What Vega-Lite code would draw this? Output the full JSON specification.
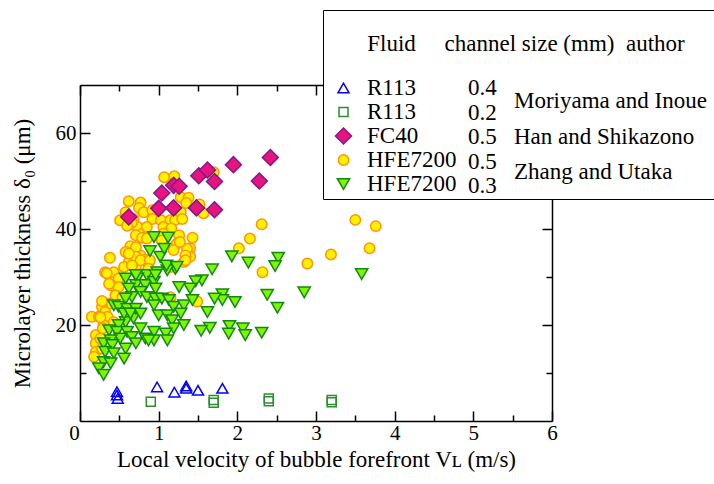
{
  "$schema": "https://vega.github.io/schema/vega-lite/v6.json",
  "width": 472,
  "height": 336,
  "autosize": {"type": "none"},
  "padding": {"left": 80, "top": 85, "right": 162, "bottom": 63},
  "background": "white",
  "config": {
    "font": "Liberation Serif",
    "view": {"stroke": null},
    "style": {
      "guide-label": {"font": "Liberation Serif", "fill": "black"},
      "guide-title": {"font": "Liberation Serif", "fill": "black"}
    },
    "axis": {
      "grid": false,
      "labelFont": "Liberation Serif",
      "titleFont": "Liberation Serif",
      "labelFontSize": 21,
      "titleFontSize": 23,
      "titleFontWeight": "normal",
      "labelColor": "black",
      "titleColor": "black",
      "domainColor": "black",
      "tickColor": "black",
      "domainWidth": 1.5,
      "tickWidth": 1.5
    },
    "legend": {
      "labelFont": "Liberation Serif",
      "titleFont": "Liberation Serif",
      "labelFontSize": 23,
      "titleFontSize": 23,
      "titleFontWeight": "normal",
      "labelColor": "black",
      "titleColor": "black",
      "labelLimit": 1000,
      "titleLimit": 1000
    }
  },
  "datasets": {
    "points": [
      {"series": "HFE7200 0.5", "v": 1.07, "d": 50.8},
      {"series": "HFE7200 0.5", "v": 1.20, "d": 51.0},
      {"series": "HFE7200 0.5", "v": 0.62, "d": 45.8},
      {"series": "HFE7200 0.5", "v": 0.77, "d": 45.5},
      {"series": "HFE7200 0.5", "v": 0.75, "d": 44.4},
      {"series": "HFE7200 0.5", "v": 0.58, "d": 43.5},
      {"series": "HFE7200 0.5", "v": 0.56, "d": 41.8},
      {"series": "HFE7200 0.5", "v": 0.51, "d": 41.8},
      {"series": "HFE7200 0.5", "v": 0.68, "d": 42.1},
      {"series": "HFE7200 0.5", "v": 0.81, "d": 43.5},
      {"series": "HFE7200 0.5", "v": 0.92, "d": 43.9},
      {"series": "HFE7200 0.5", "v": 0.92, "d": 42.1},
      {"series": "HFE7200 0.5", "v": 0.73, "d": 40.4},
      {"series": "HFE7200 0.5", "v": 0.79, "d": 39.0},
      {"series": "HFE7200 0.5", "v": 0.71, "d": 38.7},
      {"series": "HFE7200 0.5", "v": 0.85, "d": 40.4},
      {"series": "HFE7200 0.5", "v": 1.03, "d": 41.8},
      {"series": "HFE7200 0.5", "v": 1.09, "d": 40.1},
      {"series": "HFE7200 0.5", "v": 1.15, "d": 41.8},
      {"series": "HFE7200 0.5", "v": 1.06, "d": 40.4},
      {"series": "HFE7200 0.5", "v": 1.21, "d": 41.9},
      {"series": "HFE7200 0.5", "v": 1.28, "d": 46.6},
      {"series": "HFE7200 0.5", "v": 1.38, "d": 46.5},
      {"series": "HFE7200 0.5", "v": 1.35, "d": 45.4},
      {"series": "HFE7200 0.5", "v": 1.28, "d": 43.5},
      {"series": "HFE7200 0.5", "v": 1.43, "d": 38.2},
      {"series": "HFE7200 0.5", "v": 1.57, "d": 43.3},
      {"series": "HFE7200 0.5", "v": 2.31, "d": 41.0},
      {"series": "HFE7200 0.5", "v": 2.16, "d": 38.0},
      {"series": "HFE7200 0.5", "v": 2.02, "d": 36.0},
      {"series": "HFE7200 0.5", "v": 2.32, "d": 31.0},
      {"series": "HFE7200 0.5", "v": 2.89, "d": 32.8},
      {"series": "HFE7200 0.5", "v": 3.19, "d": 34.7},
      {"series": "HFE7200 0.5", "v": 3.50, "d": 41.9},
      {"series": "HFE7200 0.5", "v": 3.76, "d": 40.6},
      {"series": "HFE7200 0.5", "v": 3.68, "d": 36.0},
      {"series": "HFE7200 0.5", "v": 1.70, "d": 51.8},
      {"series": "HFE7200 0.5", "v": 1.40, "d": 36.0},
      {"series": "HFE7200 0.5", "v": 1.52, "d": 45.1},
      {"series": "HFE7200 0.5", "v": 1.49, "d": 24.9},
      {"series": "HFE7200 0.5", "v": 1.40, "d": 34.2},
      {"series": "HFE7200 0.5", "v": 0.38, "d": 34.0},
      {"series": "HFE7200 0.5", "v": 0.64, "d": 36.4},
      {"series": "HFE7200 0.5", "v": 0.58, "d": 35.2},
      {"series": "HFE7200 0.5", "v": 0.66, "d": 34.5},
      {"series": "HFE7200 0.5", "v": 0.77, "d": 34.5},
      {"series": "HFE7200 0.5", "v": 0.83, "d": 33.6},
      {"series": "HFE7200 0.5", "v": 0.87, "d": 32.8},
      {"series": "HFE7200 0.5", "v": 0.62, "d": 33.1},
      {"series": "HFE7200 0.5", "v": 0.56, "d": 32.1},
      {"series": "HFE7200 0.5", "v": 0.35, "d": 30.7},
      {"series": "HFE7200 0.5", "v": 0.43, "d": 31.0},
      {"series": "HFE7200 0.5", "v": 0.71, "d": 32.1},
      {"series": "HFE7200 0.5", "v": 1.23, "d": 36.9},
      {"series": "HFE7200 0.5", "v": 1.36, "d": 35.9},
      {"series": "HFE7200 0.5", "v": 1.34, "d": 34.5},
      {"series": "HFE7200 0.5", "v": 1.32, "d": 33.1},
      {"series": "HFE7200 0.5", "v": 1.15, "d": 32.1},
      {"series": "HFE7200 0.5", "v": 1.19, "d": 35.6},
      {"series": "HFE7200 0.5", "v": 0.66, "d": 41.4},
      {"series": "HFE7200 0.5", "v": 0.60, "d": 40.7},
      {"series": "HFE7200 0.5", "v": 1.30, "d": 42.1},
      {"series": "HFE7200 0.5", "v": 1.16, "d": 40.1},
      {"series": "HFE7200 0.5", "v": 1.06, "d": 39.0},
      {"series": "HFE7200 0.5", "v": 1.26, "d": 38.7},
      {"series": "HFE7200 0.5", "v": 0.79, "d": 38.2},
      {"series": "HFE7200 0.5", "v": 0.85, "d": 38.0},
      {"series": "HFE7200 0.5", "v": 1.04, "d": 37.6},
      {"series": "HFE7200 0.5", "v": 1.27, "d": 37.3},
      {"series": "HFE7200 0.5", "v": 0.71, "d": 36.2},
      {"series": "HFE7200 0.5", "v": 0.71, "d": 34.2},
      {"series": "HFE7200 0.5", "v": 0.62, "d": 34.9},
      {"series": "HFE7200 0.5", "v": 0.77, "d": 33.5},
      {"series": "HFE7200 0.5", "v": 0.89, "d": 33.5},
      {"series": "HFE7200 0.5", "v": 1.34, "d": 33.5},
      {"series": "HFE7200 0.5", "v": 0.66, "d": 32.4},
      {"series": "HFE7200 0.5", "v": 0.32, "d": 31.0},
      {"series": "HFE7200 0.5", "v": 0.49, "d": 29.7},
      {"series": "HFE7200 0.5", "v": 0.39, "d": 28.3},
      {"series": "HFE7200 0.5", "v": 0.49, "d": 27.9},
      {"series": "HFE7200 0.5", "v": 0.45, "d": 26.2},
      {"series": "HFE7200 0.5", "v": 0.54, "d": 25.8},
      {"series": "HFE7200 0.5", "v": 0.37, "d": 24.5},
      {"series": "HFE7200 0.5", "v": 0.28, "d": 23.8},
      {"series": "HFE7200 0.5", "v": 0.32, "d": 22.7},
      {"series": "HFE7200 0.5", "v": 0.15, "d": 21.7},
      {"series": "HFE7200 0.5", "v": 0.24, "d": 21.7},
      {"series": "HFE7200 0.5", "v": 0.35, "d": 21.7},
      {"series": "HFE7200 0.5", "v": 0.43, "d": 20.6},
      {"series": "HFE7200 0.5", "v": 0.30, "d": 20.0},
      {"series": "HFE7200 0.5", "v": 0.20, "d": 17.9},
      {"series": "HFE7200 0.5", "v": 0.20, "d": 16.2},
      {"series": "HFE7200 0.5", "v": 0.20, "d": 14.4},
      {"series": "HFE7200 0.5", "v": 0.18, "d": 13.4},
      {"series": "HFE7200 0.5", "v": 0.26, "d": 17.2},
      {"series": "HFE7200 0.5", "v": 0.28, "d": 15.1},
      {"series": "HFE7200 0.5", "v": 1.15, "d": 25.8},
      {"series": "HFE7200 0.5", "v": 0.87, "d": 31.7},
      {"series": "HFE7200 0.5", "v": 0.37, "d": 28.6},
      {"series": "HFE7200 0.5", "v": 0.28, "d": 25.0},
      {"series": "HFE7200 0.5", "v": 0.34, "d": 30.8},
      {"series": "HFE7200 0.5", "v": 0.29, "d": 19.3},
      {"series": "HFE7200 0.5", "v": 0.26, "d": 21.6},

      {"series": "HFE7200 0.3", "v": 1.93, "d": 34.3},
      {"series": "HFE7200 0.3", "v": 2.14, "d": 33.0},
      {"series": "HFE7200 0.3", "v": 2.52, "d": 34.0},
      {"series": "HFE7200 0.3", "v": 2.48, "d": 32.3},
      {"series": "HFE7200 0.3", "v": 1.68, "d": 31.6},
      {"series": "HFE7200 0.3", "v": 1.55, "d": 29.3},
      {"series": "HFE7200 0.3", "v": 1.47, "d": 29.1},
      {"series": "HFE7200 0.3", "v": 1.40, "d": 27.6},
      {"series": "HFE7200 0.3", "v": 2.85, "d": 26.8},
      {"series": "HFE7200 0.3", "v": 3.58, "d": 30.6},
      {"series": "HFE7200 0.3", "v": 2.38, "d": 26.3},
      {"series": "HFE7200 0.3", "v": 2.51, "d": 23.6},
      {"series": "HFE7200 0.3", "v": 1.81, "d": 26.4},
      {"series": "HFE7200 0.3", "v": 1.81, "d": 25.2},
      {"series": "HFE7200 0.3", "v": 1.71, "d": 25.5},
      {"series": "HFE7200 0.3", "v": 1.97, "d": 24.8},
      {"series": "HFE7200 0.3", "v": 1.62, "d": 22.7},
      {"series": "HFE7200 0.3", "v": 1.65, "d": 19.4},
      {"series": "HFE7200 0.3", "v": 1.90, "d": 19.8},
      {"series": "HFE7200 0.3", "v": 1.89, "d": 18.2},
      {"series": "HFE7200 0.3", "v": 2.07, "d": 19.3},
      {"series": "HFE7200 0.3", "v": 2.10, "d": 17.9},
      {"series": "HFE7200 0.3", "v": 2.31, "d": 18.4},
      {"series": "HFE7200 0.3", "v": 1.54, "d": 18.8},
      {"series": "HFE7200 0.3", "v": 1.02, "d": 34.2},
      {"series": "HFE7200 0.3", "v": 1.21, "d": 31.7},
      {"series": "HFE7200 0.3", "v": 1.11, "d": 31.4},
      {"series": "HFE7200 0.3", "v": 0.98, "d": 31.0},
      {"series": "HFE7200 0.3", "v": 0.85, "d": 30.4},
      {"series": "HFE7200 0.3", "v": 0.73, "d": 29.7},
      {"series": "HFE7200 0.3", "v": 0.58, "d": 29.7},
      {"series": "HFE7200 0.3", "v": 0.71, "d": 28.3},
      {"series": "HFE7200 0.3", "v": 0.83, "d": 28.3},
      {"series": "HFE7200 0.3", "v": 0.94, "d": 29.0},
      {"series": "HFE7200 0.3", "v": 0.96, "d": 27.6},
      {"series": "HFE7200 0.3", "v": 0.62, "d": 27.6},
      {"series": "HFE7200 0.3", "v": 0.77, "d": 26.9},
      {"series": "HFE7200 0.3", "v": 0.66, "d": 25.8},
      {"series": "HFE7200 0.3", "v": 0.58, "d": 25.5},
      {"series": "HFE7200 0.3", "v": 0.85, "d": 25.8},
      {"series": "HFE7200 0.3", "v": 1.26, "d": 27.9},
      {"series": "HFE7200 0.3", "v": 0.96, "d": 25.5},
      {"series": "HFE7200 0.3", "v": 1.04, "d": 25.5},
      {"series": "HFE7200 0.3", "v": 1.13, "d": 25.2},
      {"series": "HFE7200 0.3", "v": 1.19, "d": 23.8},
      {"series": "HFE7200 0.3", "v": 1.32, "d": 24.1},
      {"series": "HFE7200 0.3", "v": 1.28, "d": 22.4},
      {"series": "HFE7200 0.3", "v": 1.43, "d": 25.2},
      {"series": "HFE7200 0.3", "v": 0.94, "d": 24.1},
      {"series": "HFE7200 0.3", "v": 1.00, "d": 22.0},
      {"series": "HFE7200 0.3", "v": 1.11, "d": 22.0},
      {"series": "HFE7200 0.3", "v": 1.17, "d": 21.0},
      {"series": "HFE7200 0.3", "v": 1.32, "d": 20.0},
      {"series": "HFE7200 0.3", "v": 1.19, "d": 19.3},
      {"series": "HFE7200 0.3", "v": 1.09, "d": 18.2},
      {"series": "HFE7200 0.3", "v": 0.94, "d": 18.6},
      {"series": "HFE7200 0.3", "v": 0.83, "d": 17.2},
      {"series": "HFE7200 0.3", "v": 0.77, "d": 19.3},
      {"series": "HFE7200 0.3", "v": 0.68, "d": 21.4},
      {"series": "HFE7200 0.3", "v": 0.58, "d": 20.6},
      {"series": "HFE7200 0.3", "v": 0.49, "d": 20.0},
      {"series": "HFE7200 0.3", "v": 0.43, "d": 24.1},
      {"series": "HFE7200 0.3", "v": 0.49, "d": 23.8},
      {"series": "HFE7200 0.3", "v": 0.60, "d": 23.4},
      {"series": "HFE7200 0.3", "v": 0.71, "d": 23.4},
      {"series": "HFE7200 0.3", "v": 0.56, "d": 22.4},
      {"series": "HFE7200 0.3", "v": 0.64, "d": 22.4},
      {"series": "HFE7200 0.3", "v": 0.77, "d": 22.4},
      {"series": "HFE7200 0.3", "v": 0.37, "d": 18.9},
      {"series": "HFE7200 0.3", "v": 0.47, "d": 18.6},
      {"series": "HFE7200 0.3", "v": 0.60, "d": 18.6},
      {"series": "HFE7200 0.3", "v": 0.66, "d": 17.5},
      {"series": "HFE7200 0.3", "v": 0.51, "d": 17.2},
      {"series": "HFE7200 0.3", "v": 0.39, "d": 16.8},
      {"series": "HFE7200 0.3", "v": 0.30, "d": 16.2},
      {"series": "HFE7200 0.3", "v": 0.41, "d": 15.8},
      {"series": "HFE7200 0.3", "v": 0.32, "d": 14.4},
      {"series": "HFE7200 0.3", "v": 0.43, "d": 14.1},
      {"series": "HFE7200 0.3", "v": 0.58, "d": 15.1},
      {"series": "HFE7200 0.3", "v": 0.56, "d": 13.0},
      {"series": "HFE7200 0.3", "v": 0.30, "d": 12.3},
      {"series": "HFE7200 0.3", "v": 0.94, "d": 16.8},
      {"series": "HFE7200 0.3", "v": 0.71, "d": 16.2},
      {"series": "HFE7200 0.3", "v": 0.24, "d": 11.0},
      {"series": "HFE7200 0.3", "v": 0.30, "d": 9.6},
      {"series": "HFE7200 0.3", "v": 0.39, "d": 12.0},
      {"series": "HFE7200 0.3", "v": 1.11, "d": 16.8},
      {"series": "HFE7200 0.3", "v": 0.87, "d": 16.8},
      {"series": "HFE7200 0.3", "v": 0.94, "d": 38.3},
      {"series": "HFE7200 0.3", "v": 1.12, "d": 38.2},
      {"series": "HFE7200 0.3", "v": 0.89, "d": 35.4},
      {"series": "HFE7200 0.3", "v": 1.07, "d": 35.9},
      {"series": "HFE7200 0.3", "v": 1.10, "d": 32.4},
      {"series": "HFE7200 0.3", "v": 1.23, "d": 32.1},
      {"series": "HFE7200 0.3", "v": 0.96, "d": 30.4},
      {"series": "HFE7200 0.3", "v": 0.71, "d": 30.4},

      {"series": "FC40 0.5", "v": 0.62, "d": 42.5},
      {"series": "FC40 0.5", "v": 1.04, "d": 47.5},
      {"series": "FC40 0.5", "v": 1.00, "d": 44.3},
      {"series": "FC40 0.5", "v": 1.19, "d": 49.1},
      {"series": "FC40 0.5", "v": 1.26, "d": 48.9},
      {"series": "FC40 0.5", "v": 1.19, "d": 44.4},
      {"series": "FC40 0.5", "v": 1.48, "d": 44.4},
      {"series": "FC40 0.5", "v": 1.51, "d": 51.1},
      {"series": "FC40 0.5", "v": 1.62, "d": 52.3},
      {"series": "FC40 0.5", "v": 1.71, "d": 49.9},
      {"series": "FC40 0.5", "v": 1.71, "d": 44.0},
      {"series": "FC40 0.5", "v": 1.95, "d": 53.4},
      {"series": "FC40 0.5", "v": 2.28, "d": 50.0},
      {"series": "FC40 0.5", "v": 2.42, "d": 54.9},

      {"series": "R113 0.4", "v": 0.47, "d": 6.1},
      {"series": "R113 0.4", "v": 0.47, "d": 5.4},
      {"series": "R113 0.4", "v": 0.48, "d": 4.7},
      {"series": "R113 0.4", "v": 0.98, "d": 7.1},
      {"series": "R113 0.4", "v": 1.20, "d": 6.0},
      {"series": "R113 0.4", "v": 1.35, "d": 7.3},
      {"series": "R113 0.4", "v": 1.35, "d": 6.8},
      {"series": "R113 0.4", "v": 1.50, "d": 6.4},
      {"series": "R113 0.4", "v": 1.81, "d": 6.8},

      {"series": "R113 0.2", "v": 0.90, "d": 4.0},
      {"series": "R113 0.2", "v": 1.70, "d": 4.4},
      {"series": "R113 0.2", "v": 1.70, "d": 3.8},
      {"series": "R113 0.2", "v": 2.40, "d": 4.7},
      {"series": "R113 0.2", "v": 2.40, "d": 4.1},
      {"series": "R113 0.2", "v": 3.20, "d": 4.4},
      {"series": "R113 0.2", "v": 3.20, "d": 3.9}
    ]
  },
  "resolve": {"axis": {"x": "independent", "y": "independent"}},
  "layer": [
    {
      "data": {"name": "points"},
      "mark": {"type": "point", "filled": false, "strokeWidth": 1.5, "opacity": 1},
      "encoding": {
        "x": {
          "field": "v", "type": "quantitative",
          "scale": {"domain": [0, 6], "nice": false, "zero": false},
          "axis": {
            "orient": "bottom",
            "values": [0, 0.5, 1, 1.5, 2, 2.5, 3, 3.5, 4, 4.5, 5, 5.5, 6],
            "labelExpr": "datum.value % 1 === 0 ? format(datum.value, 'd') : ''",
            "tickSize": {"condition": {"test": "datum.value % 1 === 0", "value": -10}, "value": -6},
            "labelFont": "Liberation Serif",
            "labelPadding": 11,
            "labelFlush": false,
            "labelOffset": {"condition": {"test": "datum.value === 0", "value": -6}, "value": 0},
            "title": "Local velocity of bubble forefront  Vʟ (m/s)",
            "titlePadding": 5
          }
        },
        "y": {
          "field": "d", "type": "quantitative",
          "scale": {"domain": [0, 70], "nice": false, "zero": true},
          "axis": {
            "orient": "left",
            "values": [10, 20, 30, 40, 50, 60],
            "labelExpr": "datum.value % 20 === 0 ? datum.label : ''",
            "tickSize": {"condition": {"test": "datum.value % 20 === 0", "value": -10}, "value": -6},
            "labelFont": "Liberation Serif",
            "labelPadding": 14,
            "title": "Microlayer thickness δ₀ (μm)",
            "titlePadding": 21
          }
        },
        "shape": {
          "field": "series", "type": "nominal",
          "scale": {
            "domain": ["R113 0.4", "R113 0.2", "FC40 0.5", "HFE7200 0.5", "HFE7200 0.3"],
            "range": ["triangle-up", "square", "diamond", "circle", "triangle-down"]
          },
          "legend": {
            "orient": "none",
            "legendX": 243,
            "legendY": -75,
            "zindex": 3,
            "title": ["\u00a0", "\u200b\u00a0\u00a0\u00a0\u00a0\u00a0\u00a0\u00a0Fluid\u00a0\u00a0\u00a0\u00a0\u00a0channel size (mm)\u00a0\u00a0author"],
            "titleLineHeight": 18.5,
            "titlePadding": 21,
            "labelExpr": "split(datum.value, ' ')[0]",
            "padding": 4,
            "strokeColor": null,
            "fillColor": null,
            "symbolOffset": 5,
            "labelOffset": 12,
            "rowPadding": 0,
            "symbolStrokeWidth": 1.5
          }
        },
        "fill": {
          "field": "series", "type": "nominal",
          "scale": {
            "domain": ["R113 0.4", "R113 0.2", "FC40 0.5", "HFE7200 0.5", "HFE7200 0.3"],
            "range": ["transparent", "transparent", "#E8137E", "#FFF200", "#7FF500"]
          }
        },
        "stroke": {
          "field": "series", "type": "nominal",
          "scale": {
            "domain": ["R113 0.4", "R113 0.2", "FC40 0.5", "HFE7200 0.5", "HFE7200 0.3"],
            "range": ["#0000FF", "#2A8F2A", "#7D1A8C", "#FF9500", "#128A12"]
          }
        },
        "size": {
          "field": "series", "type": "nominal",
          "scale": {
            "type": "ordinal",
            "domain": ["R113 0.4", "R113 0.2", "FC40 0.5", "HFE7200 0.5", "HFE7200 0.3"],
            "range": [121, 81, 256, 110, 150]
          }
        }
      }
    },
    {
      "data": {"name": "points"},
      "mark": {"type": "point", "opacity": 0},
      "encoding": {
        "x": {
          "field": "v", "type": "quantitative",
          "axis": {
            "orient": "top",
            "values": [0, 0.5, 1, 1.5, 2, 2.5, 3, 3.5, 4, 4.5, 5, 5.5, 6],
            "labels": false,
            "title": null,
            "tickSize": {"condition": {"test": "datum.value % 1 === 0", "value": -10}, "value": -6}
          }
        },
        "y": {
          "field": "d", "type": "quantitative",
          "axis": {
            "orient": "right",
            "values": [10, 20, 30, 40, 50, 60],
            "labels": false,
            "title": null,
            "tickSize": {"condition": {"test": "datum.value % 20 === 0", "value": -10}, "value": -6}
          }
        }
      }
    },
    {
      "data": {"values": [
        {"author": "Moriyama and Inoue"},
        {"author": "Han and Shikazono"},
        {"author": "Zhang and Utaka"}
      ]},
      "mark": {"type": "point"},
      "encoding": {
        "opacity": {
          "field": "author", "type": "nominal",
          "scale": {"type": "ordinal", "domain": ["\u200b", "Moriyama and Inoue", "Han and Shikazono", "Zhang and Utaka"], "range": [0, 0, 0, 0]},
          "legend": {
            "orient": "none",
            "legendX": 243,
            "legendY": -75,
            "zindex": 2,
            "title": "\u200b\u00a0",
            "titlePadding": 41.5,
            "padding": 15,
            "strokeColor": "black",
            "fillColor": "white",
            "symbolSize": 0,
            "symbolOpacity": 0,
            "labelOffset": 153,
            "rowPadding": 11.5
          }
        }
      }
    },
    {
      "data": {"values": [
        {"box": "b1"},
        {"box": "b2"},
        {"box": "b3"}
      ]},
      "mark": {"type": "point", "opacity": 0},
      "encoding": {
        "fillOpacity": {
          "field": "box", "type": "nominal",
          "scale": {"type": "ordinal", "domain": ["\u200b\u200b", "b1", "b2", "b3"], "range": [0, 0, 0, 0]},
          "legend": {
            "orient": "none",
            "legendX": 247,
            "legendY": -70,
            "zindex": 1,
            "title": "\u200b\u00a0",
            "titlePadding": 41.5,
            "padding": 15,
            "strokeColor": "black",
            "fillColor": "black",
            "symbolSize": 0,
            "symbolOpacity": 0,
            "labelExpr": "'\u00a0'",
            "labelOffset": 420,
            "rowPadding": 11.5
          }
        }
      }
    },
    {
      "data": {"values": [
        {"entry": "R113/0.4"},
        {"entry": "R113/0.2"},
        {"entry": "FC40/0.5"},
        {"entry": "HFE7200/0.5"},
        {"entry": "HFE7200/0.3"}
      ]},
      "mark": {"type": "point", "opacity": 0},
      "encoding": {
        "strokeWidth": {
          "field": "entry", "type": "nominal",
          "scale": {"type": "ordinal", "domain": ["\u200b", "R113/0.4", "R113/0.2", "FC40/0.5", "HFE7200/0.5", "HFE7200/0.3"], "range": [0, 0, 0, 0, 0, 0]},
          "legend": {
            "orient": "none",
            "legendX": 365,
            "legendY": -8.5,
            "zindex": 3,
            "title": null,
            "labelExpr": "split(datum.value, '/')[1]",
            "padding": 0,
            "strokeColor": null,
            "fillColor": null,
            "symbolSize": 0,
            "symbolOpacity": 0,
            "labelOffset": 0,
            "rowPadding": 0.5
          }
        }
      }
    }
  ]
}
